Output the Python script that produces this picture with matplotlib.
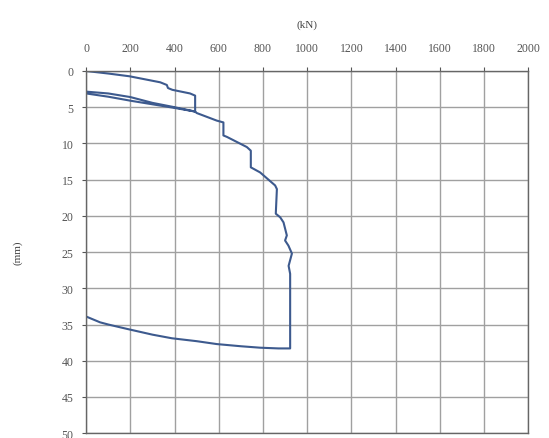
import numpy as np
import matplotlib
matplotlib.use('Agg')
import matplotlib.pyplot as plt

# carga (kN) vs asentamiento (mm)
carga = [0, 100, 196, 335, 365, 370, 390, 470, 493, 493,
         400, 300, 200, 100, 0,
         0, 100, 200, 300, 400, 493,
         500, 591, 621, 621, 637, 727, 745, 745, 787, 855, 863, 858,
         878, 893, 908, 900, 915, 931, 916, 923, 923,
         870, 787, 700, 591, 500, 388, 300, 184, 100, 63, 0]
asentamiento = [0, 0.35, 0.73, 1.56, 1.93, 2.35, 2.6, 3.1, 3.4, 5.6,
                5.0, 4.4, 3.6, 3.1, 2.85,
                3.1, 3.55, 4.1, 4.6, 5.1, 5.6,
                5.8, 6.85, 7.1, 8.9, 9.1, 10.5, 11.0, 13.3, 14.0, 15.8, 16.3, 19.7,
                20.2, 20.9, 22.7, 23.4, 24.1, 25.2, 26.9, 28.0, 38.3,
                38.3, 38.2, 38.0, 37.7, 37.3, 36.9, 36.4, 35.6, 35.0, 34.7, 33.9]

xticks = np.arange(0, 2001, 200)
yticks = np.arange(0, 51, 5)

plt.rcParams['font.family'] = ['Liberation Serif', 'DejaVu Serif']

fig = plt.figure(figsize=(5.49, 4.39), dpi=100)
ax = fig.add_axes([0.157, 0.011, 0.805, 0.825])

ax.plot(carga, asentamiento, color='#3d5a8e', lw=1.5)

ax.set_xlim(0, 2000)
ax.set_ylim(50, 0)
ax.set_xticks(xticks)
ax.set_yticks(yticks)
ax.xaxis.tick_top()
ax.xaxis.set_label_position('top')
ax.tick_params(labelsize=8.5, colors='#555555', length=3, width=0.8)
ax.tick_params(axis='x', pad=9)
ax.tick_params(axis='y', pad=6)
ax.set_xlabel('(kN)', fontsize=8, color='#444444', labelpad=11)
ax.set_ylabel('(mm)', fontsize=8, color='#444444', labelpad=28)
ax.grid(True, color='#a0a0a0', lw=1.0)
for s in ax.spines.values():
    s.set_color('#666666')
    s.set_linewidth(1.0)

fig.savefig('out.png', dpi=100)
